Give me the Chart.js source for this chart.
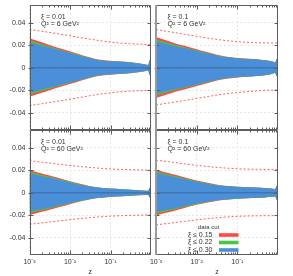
<!DOCTYPE html>
<html>
<head>
<meta charset="utf-8">
<script src="https://cdn.jsdelivr.net/npm/chart.js@4"></script>
<style>
	html, body { margin: 0; padding: 0; background: #fff; }
	#wrap { position: relative; width: 293px; height: 276px; }
	#wrap canvas { position: absolute; left: 0; top: 0; }
</style>
</head>
<body>
<div id="wrap">
	<canvas id="pA" width="293" height="276"></canvas>
	<canvas id="pB" width="293" height="276"></canvas>
	<canvas id="pC" width="293" height="276"></canvas>
	<canvas id="pD" width="293" height="276"></canvas>
</div>
<script>
// z grid shared by all panels
const z = [0.001, 0.002, 0.003, 0.005, 0.01, 0.02, 0.03, 0.05, 0.1, 0.2, 0.3, 0.5, 0.7, 0.85, 0.93, 1.0];
const center = [0, 0, 0, 0, 0, 0, 0, 0, 0, 0, 0, 0, 0, 0, 0, 0];

// Panel A: xi = 0.01, Q2 = 6
const blueHiA  = [0.0228, 0.0199, 0.0182, 0.0160, 0.0132, 0.0103, 0.0087, 0.0068, 0.0058, 0.0052, 0.0048, 0.0038, 0.0030, 0.0024, 0.0065, 0.0040];
const blueLoA  = [-0.0222, -0.0195, -0.0178, -0.0157, -0.0130, -0.0101, -0.0085, -0.0067, -0.0057, -0.0051, -0.0047, -0.0037, -0.0029, -0.0023, -0.0064, -0.0040];
const greenHiA = [0.0242, 0.0210, 0.0192, 0.0168, 0.0138, 0.0107, 0.0090, 0.0070, 0.0059, 0.0053, 0.0049, 0.0039, 0.0031, 0.0025, 0.0066, 0.0041];
const greenLoA = [-0.0237, -0.0206, -0.0188, -0.0165, -0.0136, -0.0105, -0.0088, -0.0069, -0.0058, -0.0052, -0.0048, -0.0038, -0.0030, -0.0024, -0.0065, -0.0041];
const redHiA   = [0.0262, 0.0226, 0.0205, 0.0179, 0.0146, 0.0112, 0.0094, 0.0073, 0.0062, 0.0055, 0.0050, 0.0040, 0.0032, 0.0026, 0.0067, 0.0042];
const redLoA   = [-0.0257, -0.0222, -0.0201, -0.0176, -0.0144, -0.0110, -0.0092, -0.0072, -0.0061, -0.0054, -0.0049, -0.0039, -0.0031, -0.0025, -0.0066, -0.0042];
const dashHiA  = [0.0340, 0.0325, 0.0315, 0.0302, 0.0285, 0.0265, 0.0255, 0.0243, 0.0228, 0.0218, 0.0214, 0.0210, 0.0208, 0.0207, 0.0207, 0.0206];
const dashLoA  = [-0.0335, -0.0320, -0.0310, -0.0297, -0.0280, -0.0260, -0.0249, -0.0236, -0.0222, -0.0212, -0.0208, -0.0204, -0.0202, -0.0201, -0.0201, -0.0200];

// Panel B: xi = 0.1, Q2 = 6
const blueHiB  = [0.0237, 0.0208, 0.0192, 0.0175, 0.0150, 0.0125, 0.0110, 0.0095, 0.0084, 0.0077, 0.0073, 0.0065, 0.0055, 0.0046, 0.0075, 0.0060];
const blueLoB  = [-0.0232, -0.0204, -0.0188, -0.0172, -0.0148, -0.0123, -0.0108, -0.0094, -0.0083, -0.0076, -0.0072, -0.0064, -0.0054, -0.0045, -0.0074, -0.0060];
const greenHiB = [0.0252, 0.0220, 0.0202, 0.0183, 0.0156, 0.0129, 0.0113, 0.0097, 0.0085, 0.0078, 0.0074, 0.0066, 0.0056, 0.0047, 0.0076, 0.0061];
const greenLoB = [-0.0247, -0.0216, -0.0198, -0.0180, -0.0154, -0.0127, -0.0111, -0.0096, -0.0084, -0.0077, -0.0073, -0.0065, -0.0055, -0.0046, -0.0075, -0.0061];
const redHiB   = [0.0274, 0.0237, 0.0216, 0.0195, 0.0165, 0.0135, 0.0117, 0.0100, 0.0087, 0.0080, 0.0075, 0.0067, 0.0057, 0.0048, 0.0077, 0.0062];
const redLoB   = [-0.0269, -0.0233, -0.0212, -0.0192, -0.0163, -0.0133, -0.0115, -0.0099, -0.0086, -0.0079, -0.0074, -0.0066, -0.0056, -0.0047, -0.0076, -0.0062];
const dashHiB  = [0.0340, 0.0322, 0.0312, 0.0298, 0.0280, 0.0262, 0.0253, 0.0243, 0.0232, 0.0225, 0.0222, 0.0221, 0.0220, 0.0220, 0.0220, 0.0220];
const dashLoB  = [-0.0330, -0.0314, -0.0304, -0.0291, -0.0273, -0.0254, -0.0244, -0.0233, -0.0220, -0.0210, -0.0205, -0.0200, -0.0198, -0.0197, -0.0196, -0.0196];

// Panel C: xi = 0.01, Q2 = 60
const blueHiC  = [0.0172, 0.0148, 0.0135, 0.0118, 0.0092, 0.0068, 0.0056, 0.0045, 0.0036, 0.0030, 0.0026, 0.0021, 0.0018, 0.0016, 0.0042, 0.0030];
const blueLoC  = [-0.0168, -0.0145, -0.0132, -0.0116, -0.0090, -0.0067, -0.0055, -0.0044, -0.0035, -0.0029, -0.0025, -0.0020, -0.0017, -0.0015, -0.0041, -0.0030];
const greenHiC = [0.0186, 0.0159, 0.0144, 0.0125, 0.0097, 0.0071, 0.0058, 0.0046, 0.0037, 0.0031, 0.0027, 0.0022, 0.0019, 0.0017, 0.0043, 0.0031];
const greenLoC = [-0.0182, -0.0156, -0.0141, -0.0123, -0.0095, -0.0070, -0.0057, -0.0045, -0.0036, -0.0030, -0.0026, -0.0021, -0.0018, -0.0016, -0.0042, -0.0031];
const redHiC   = [0.0202, 0.0172, 0.0155, 0.0133, 0.0103, 0.0075, 0.0061, 0.0048, 0.0038, 0.0032, 0.0028, 0.0023, 0.0020, 0.0018, 0.0044, 0.0032];
const redLoC   = [-0.0198, -0.0169, -0.0152, -0.0131, -0.0101, -0.0074, -0.0060, -0.0047, -0.0037, -0.0031, -0.0027, -0.0022, -0.0019, -0.0017, -0.0043, -0.0032];
const dashHiC  = [0.0285, 0.0272, 0.0265, 0.0255, 0.0243, 0.0232, 0.0226, 0.0219, 0.0212, 0.0207, 0.0205, 0.0203, 0.0202, 0.0201, 0.0201, 0.0201];
const dashLoC  = [-0.0280, -0.0268, -0.0261, -0.0251, -0.0239, -0.0228, -0.0222, -0.0215, -0.0208, -0.0203, -0.0201, -0.0199, -0.0198, -0.0197, -0.0197, -0.0197];

// Panel D: xi = 0.1, Q2 = 60
const blueHiD  = [0.0175, 0.0152, 0.0140, 0.0122, 0.0098, 0.0079, 0.0068, 0.0060, 0.0052, 0.0047, 0.0045, 0.0040, 0.0035, 0.0032, 0.0060, 0.0045];
const blueLoD  = [-0.0171, -0.0149, -0.0137, -0.0120, -0.0096, -0.0077, -0.0067, -0.0059, -0.0051, -0.0046, -0.0044, -0.0039, -0.0034, -0.0031, -0.0059, -0.0045];
const greenHiD = [0.0189, 0.0163, 0.0149, 0.0129, 0.0103, 0.0082, 0.0070, 0.0061, 0.0053, 0.0048, 0.0046, 0.0041, 0.0036, 0.0033, 0.0061, 0.0046];
const greenLoD = [-0.0185, -0.0160, -0.0146, -0.0127, -0.0101, -0.0080, -0.0069, -0.0060, -0.0052, -0.0047, -0.0045, -0.0040, -0.0035, -0.0032, -0.0060, -0.0046];
const redHiD   = [0.0205, 0.0176, 0.0160, 0.0137, 0.0109, 0.0086, 0.0073, 0.0063, 0.0054, 0.0049, 0.0047, 0.0042, 0.0037, 0.0034, 0.0062, 0.0047];
const redLoD   = [-0.0201, -0.0173, -0.0157, -0.0135, -0.0107, -0.0084, -0.0072, -0.0062, -0.0053, -0.0048, -0.0046, -0.0041, -0.0036, -0.0033, -0.0061, -0.0047];
const dashHiD  = [0.0290, 0.0276, 0.0268, 0.0257, 0.0244, 0.0232, 0.0226, 0.0220, 0.0214, 0.0210, 0.0209, 0.0208, 0.0208, 0.0208, 0.0208, 0.0208];
const dashLoD  = [-0.0285, -0.0272, -0.0264, -0.0254, -0.0241, -0.0229, -0.0223, -0.0216, -0.0210, -0.0206, -0.0205, -0.0204, -0.0204, -0.0203, -0.0203, -0.0203];

// Axis ticks and text
const yTicks = [-0.04, -0.02, 0, 0.02, 0.04];
const yTickLabels = ['-0.04', '-0.02', '0', '0.02', '0.04'];
const xTicks = [0.001, 0.01, 0.1];
const xTickLabels = ['10\u207B\u00B3', '10\u207B\u00B2', '10\u207B\u00B9'];
const xiLabels = ['\u03BE = 0.01', '\u03BE = 0.1', '\u03BE = 0.01', '\u03BE = 0.1'];
const q2Labels = ['Q\u00B2 = 6 GeV\u00B2', 'Q\u00B2 = 6 GeV\u00B2', 'Q\u00B2 = 60 GeV\u00B2', 'Q\u00B2 = 60 GeV\u00B2'];
const legendTitle = 'data cut';
const legendLabels = ['\u03BE \u2264 0.15', '\u03BE \u2264 0.22', '\u03BE \u2264 0.30'];

const RED = '#ff4848';
const GREEN = '#46c846';
const BLUE = '#4a8fd8';

Chart.defaults.font.family = '"Liberation Sans", Arial, sans-serif';
Chart.defaults.font.size = 7;
Chart.defaults.color = '#333';
Chart.defaults.animation = false;

function pts(arr) {
	return z.map((v, i) => ({ x: v, y: arr[i] }));
}

function area(arr, color, fill) {
	return {
		data: pts(arr),
		fill: fill,
		backgroundColor: color,
		borderColor: 'transparent',
		borderWidth: 0,
		pointRadius: 0,
		cubicInterpolationMode: 'monotone',
	};
}

function dashed(arr) {
	return {
		data: pts(arr),
		fill: false,
		borderColor: '#ff5c5c',
		borderWidth: 1,
		borderDash: [2, 2],
		pointRadius: 0,
		cubicInterpolationMode: 'monotone',
	};
}

// Frame with inward ticks, panel notes and the legend
const framePlugin = {
	id: 'frame',
	afterDatasetsDraw(chart, args, opts) {
		const { ctx, chartArea: a } = chart;
		const x = chart.scales.x, y = chart.scales.y;
		const L = Math.round(a.left) + 0.5, R = Math.round(a.right) - 0.5;
		const T = Math.round(a.top) + 0.5, B = Math.round(a.bottom) - 0.5;
		ctx.save();
		ctx.strokeStyle = '#5c5c5c';
		ctx.lineWidth = 1;
		ctx.beginPath();
		ctx.moveTo(L, T); ctx.lineTo(R, T); ctx.lineTo(R, B); ctx.lineTo(L, B);
		if (!opts.thickLeft) ctx.lineTo(L, T);
		for (let k = -3; k < 0; k++) {
			for (let m = 1; m < 10; m++) {
				const px = Math.round(x.getPixelForValue(m * Math.pow(10, k))) + 0.5;
				const len = m === 1 ? 4 : 2;
				ctx.moveTo(px, B); ctx.lineTo(px, B - len);
				ctx.moveTo(px, T); ctx.lineTo(px, T + len);
			}
		}
		yTicks.forEach(v => {
			const py = Math.round(y.getPixelForValue(v)) + 0.5;
			ctx.moveTo(L - 2, py); ctx.lineTo(L + 3, py);
			ctx.moveTo(R, py); ctx.lineTo(R - 3, py);
		});
		ctx.stroke();
		if (opts.thickLeft) {
			ctx.strokeStyle = '#9a9a9a';
			ctx.lineWidth = 2;
			ctx.beginPath();
			ctx.moveTo(a.left, a.top); ctx.lineTo(a.left, a.bottom);
			ctx.stroke();
		}

		ctx.fillStyle = '#333';
		ctx.font = '7px "Liberation Sans", Arial, sans-serif';
		ctx.textBaseline = 'middle';
		ctx.textAlign = 'left';
		ctx.fillText(xiLabels[opts.idx], a.left + 11.5, a.top + 12.3);
		ctx.fillText(q2Labels[opts.idx], a.left + 11.5, a.top + 19.5);

		if (opts.legend) {
			ctx.font = '6px "Liberation Sans", Arial, sans-serif';
			ctx.textAlign = 'center';
			ctx.fillText(legendTitle, a.left + 52.5, a.bottom - 27.3);
			ctx.font = '7px "Liberation Sans", Arial, sans-serif';
			ctx.textAlign = 'left';
			const cols = [RED, GREEN, BLUE];
			const rows = [20, 12.5, 5];
			legendLabels.forEach((lab, i) => {
				const ry = a.bottom - rows[i];
				ctx.fillStyle = '#333';
				ctx.fillText(lab, a.left + 32, ry);
				ctx.fillStyle = cols[i];
				ctx.fillRect(a.left + 63, ry - 1.8, 19.5, 3.6);
			});
		}
		ctx.restore();
	},
};

function makePanel(id, idx, s, box, showY, showX, legend) {
	const datasets = [
		{ data: pts(center), fill: false, borderColor: '#3a6aa0', borderWidth: 1, pointRadius: 0 },
		area(s.blueHi, BLUE, '+1'),
		area(s.blueLo, BLUE, false),
		area(s.greenHi, GREEN, '+1'),
		area(s.greenLo, GREEN, false),
		area(s.redHi, RED, '+1'),
		area(s.redLo, RED, false),
		dashed(s.dashHi),
		dashed(s.dashLo),
	];
	return new Chart(document.getElementById(id), {
		type: 'line',
		data: { datasets: datasets },
		plugins: [framePlugin],
		options: {
			responsive: false,
			animation: false,
			layout: { padding: box },
			plugins: {
				legend: { display: false },
				tooltip: { enabled: false },
				frame: { idx: idx, thickLeft: !showY, legend: legend },
			},
			scales: {
				x: {
					type: 'logarithmic',
					min: 0.001,
					max: 1,
					grid: { color: '#e6e6e6', drawTicks: false },
					border: { display: false, dash: [2, 2] },
					ticks: {
						display: showX,
						autoSkip: false,
						maxRotation: 0,
						padding: 3,
						callback: (v, i) => xTickLabels[i],
					},
					title: { display: showX, text: 'z', padding: 0 },
					afterBuildTicks: sc => { sc.ticks = xTicks.map(v => ({ value: v })); },
					afterFit: sc => {
						sc.height = showX ? 21 : 0;
						sc.paddingLeft = 0;
						sc.paddingRight = 0;
					},
				},
				y: {
					min: -0.0553,
					max: 0.0558,
					grid: { color: '#e6e6e6', drawTicks: false },
					border: { display: false, dash: [2, 2] },
					ticks: {
						display: showY,
						padding: 4,
						callback: (v, i) => yTickLabels[i],
					},
					afterBuildTicks: sc => { sc.ticks = yTicks.map(v => ({ value: v })); },
					afterFit: sc => {
						sc.width = showY ? 29.5 : 0;
						sc.paddingTop = 0;
						sc.paddingBottom = 0;
					},
				},
			},
		},
	});
}

makePanel('pA', 0,
	{ blueHi: blueHiA, blueLo: blueLoA, greenHi: greenHiA, greenLo: greenLoA, redHi: redHiA, redLo: redLoA, dashHi: dashHiA, dashLo: dashLoA },
	{ left: 0, top: 5, right: 142, bottom: 146 }, true, false, false);
makePanel('pB', 1,
	{ blueHi: blueHiB, blueLo: blueLoB, greenHi: greenHiB, greenLo: greenLoB, redHi: redHiB, redLo: redLoB, dashHi: dashHiB, dashLo: dashLoB },
	{ left: 156, top: 5, right: 15, bottom: 146 }, false, false, false);
makePanel('pC', 2,
	{ blueHi: blueHiC, blueLo: blueLoC, greenHi: greenHiC, greenLo: greenLoC, redHi: redHiC, redLo: redLoC, dashHi: dashHiC, dashLo: dashLoC },
	{ left: 0, top: 130, right: 142, bottom: 0 }, true, true, false);
makePanel('pD', 3,
	{ blueHi: blueHiD, blueLo: blueLoD, greenHi: greenHiD, greenLo: greenLoD, redHi: redHiD, redLo: redLoD, dashHi: dashHiD, dashLo: dashLoD },
	{ left: 156, top: 130, right: 15, bottom: 0 }, false, true, true);
</script>
</body>
</html>
